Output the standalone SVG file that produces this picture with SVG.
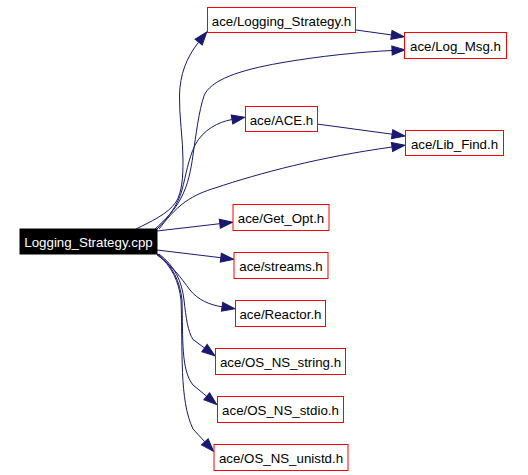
<svg xmlns="http://www.w3.org/2000/svg" width="528" height="475" viewBox="0 0 528 475">
<style>
.n rect{fill:#ffffff;stroke:#ff0000;stroke-width:1}
.n text{font-family:"Liberation Sans",Arial,sans-serif;font-size:13.3px;fill:#000000;text-anchor:middle}
#root rect{fill:#000000;stroke:#000000}
#root text{fill:#ffffff}
.e path{fill:none;stroke:#191970;stroke-width:1;marker-end:url(#ah)}
</style>
<defs>
<marker id="ah" markerUnits="userSpaceOnUse" markerWidth="14" markerHeight="10" refX="0" refY="4.5" orient="auto" overflow="visible">
<path d="M0,0 L13,4.5 L0,9 z" fill="#191970" stroke="#191970" stroke-width="1"/>
</marker>
</defs>
<rect width="528" height="475" fill="#ffffff"/>
<g id="edges" class="e">
<path d="M136,229 C150,222 168,214 176,202 C182,192 183,178 183,160 C183,140 179,115 179.5,95 C180,75 186,58 198.7,42.1"/>
<path d="M155,229 C165,220 175,210 181,198 C188,185 191,170 193,155 C196,135 199,110 204,96 C210,80 240,70 280,63 C320,56 360,52 392,50.5"/>
<path d="M157,229 C168,218 178,205 182,190 C186,175 188,160 195,145 C203,130 218,122 232,119.5"/>
<path d="M159,229 C166,220 174,210 185,202 C195,195 205,191 215,188 C260,173 320,157 392,147"/>
<path d="M317,124 L392.1,134.2"/>
<path d="M356,30 L391.4,34.9"/>
<path d="M157,231 L219.8,223.7"/>
<path d="M157,250 L220.8,257.7"/>
<path d="M157,255 C172,265 181,278 190,290 C198,300 210,305 222.1,306.8"/>
<path d="M159,254 C175,266 182,282 184,300 C186,318 188,332 193,339.5 L204.5,348"/>
<path d="M158,254 C173,266 180,282 182,300 C183,340 181,370 193,385 L206.7,396.3"/>
<path d="M157,254 C172,266 179,282 181,300 C183,350 179,400 193,429 L204.8,441.8"/>
</g>
<g id="root" class="n"><rect x="20" y="229" width="137" height="25"/><text x="88.5" y="246.5">Logging_Strategy.cpp</text></g>
<g id="logging_strategy_h" class="n"><rect x="207.5" y="7.5" width="148" height="25"/><text x="281.5" y="25.5">ace/Logging_Strategy.h</text></g>
<g id="log_msg_h" class="n"><rect x="404.5" y="32.5" width="102" height="26"/><text x="455.5" y="51">ace/Log_Msg.h</text></g>
<g id="ace_h" class="n"><rect x="245.5" y="106.5" width="72" height="25"/><text x="281.5" y="124.5">ace/ACE.h</text></g>
<g id="lib_find_h" class="n"><rect x="405.5" y="130.5" width="98" height="25"/><text x="454.5" y="148.5">ace/Lib_Find.h</text></g>
<g id="get_opt_h" class="n"><rect x="233" y="204.5" width="96" height="26"/><text x="281" y="223">ace/Get_Opt.h</text></g>
<g id="streams_h" class="n"><rect x="234" y="252.5" width="94" height="26"/><text x="281" y="271">ace/streams.h</text></g>
<g id="reactor_h" class="n"><rect x="235.5" y="300.5" width="90" height="26"/><text x="280.5" y="319">ace/Reactor.h</text></g>
<g id="os_ns_string_h" class="n"><rect x="215.5" y="348.5" width="130" height="26"/><text x="280.5" y="367">ace/OS_NS_string.h</text></g>
<g id="os_ns_stdio_h" class="n"><rect x="217.5" y="396.5" width="126" height="26"/><text x="280.5" y="415">ace/OS_NS_stdio.h</text></g>
<g id="os_ns_unistd_h" class="n"><rect x="214" y="444.5" width="134" height="26"/><text x="281" y="463">ace/OS_NS_unistd.h</text></g>
</svg>
